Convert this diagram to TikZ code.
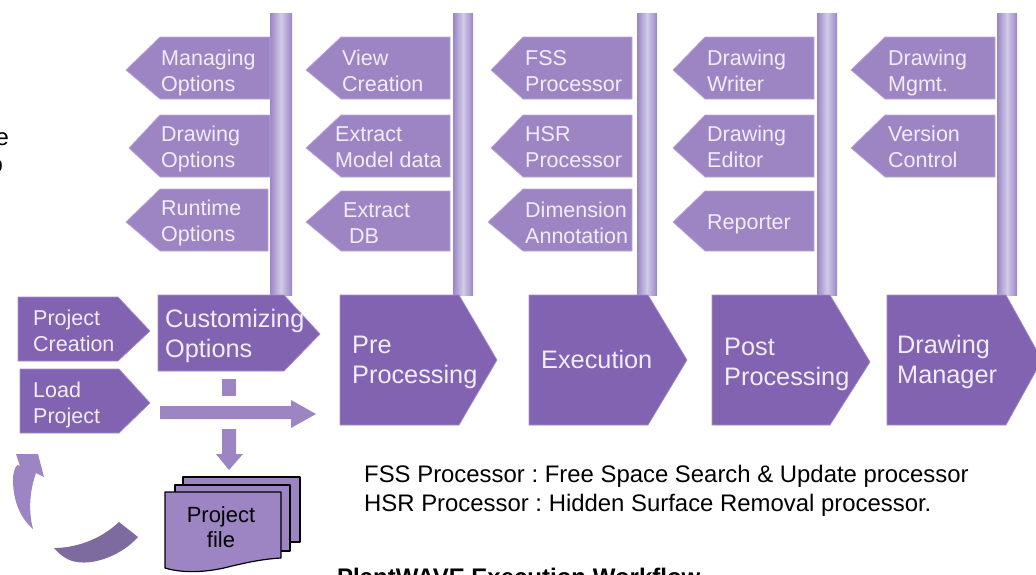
\documentclass[tikz,border=0pt]{standalone}
\usepackage{fontspec}
\setmainfont{Liberation Sans}
\frenchspacing
\definecolor{flagfill}{HTML}{9D85C4}
\definecolor{flagedge}{HTML}{B8A7D6}
\definecolor{stagefill}{HTML}{8263B1}
\definecolor{stageedge}{HTML}{A48FC8}
\definecolor{postdark}{HTML}{9A85C5}
\definecolor{postlight}{HTML}{D2CBE7}
\definecolor{swirl}{HTML}{7D6A9E}
\definecolor{labelwhite}{HTML}{F1EDF8}
\tikzset{
  flagshape/.style={fill=flagfill,draw=flagedge,line width=0.7pt},
  stageshape/.style={fill=stagefill,draw=stageedge,line width=0.7pt},
  postshape/.style={left color=postdark,right color=postdark,middle color=postlight,draw=none},
  marker/.style={fill=flagfill,draw=none},
  sheet/.style={fill=flagfill,draw=black,line width=1.2pt,line join=round},
  smalllabel/.style={anchor=base west,inner sep=0pt,align=left,text=labelwhite,font=\fontsize{21.5}{26}\selectfont},
  biglabel/.style={anchor=base west,inner sep=0pt,align=left,text=labelwhite,font=\fontsize{25.3}{30}\selectfont},
  filelabel/.style={anchor=base,inner sep=0pt,align=center,text=black,font=\fontsize{22}{25}\selectfont},
  notelabel/.style={anchor=base west,inner sep=0pt,text=black,font=\fontsize{23.9}{29}\selectfont},
}
\newcommand{\flagdraw}[6]{% tip x, tip y, shoulder x, right x, top y, bottom y
  \path[flagshape] (#1,#2) -- (#3,#5) -- (#4,#5) -- (#4,#6) -- (#3,#6) -- cycle;}
\newcommand{\stagedraw}[6]{% left, top, bottom, shoulder, tip x, tip y
  \path[stageshape] (#1,#2) -- (#4,#2) -- (#5,#6) -- (#4,#3) -- (#1,#3) -- cycle;}
\begin{document}
\begin{tikzpicture}[x=1pt,y=-1pt]
\useasboundingbox (0,0) rectangle (1036,574);
\clip (0,0) rectangle (1036,574);
% posts
\foreach \a/\b in {270/292,453/473,637/657,817/837,997/1017}
  \path[postshape] (\a,13) rectangle (\b,295);
% flags
\flagdraw{126}{70}{160}{270}{37}{99}
\flagdraw{129}{148}{160}{270}{115}{177}
\flagdraw{126}{222}{160}{268}{189}{251}
\flagdraw{306}{70}{341}{450}{37}{99}
\flagdraw{306}{148}{341}{450}{115}{177}
\flagdraw{306}{222}{341}{450}{191}{251}
\flagdraw{491}{70}{523}{632}{37}{99}
\flagdraw{491}{148}{523}{632}{115}{177}
\flagdraw{488}{222}{523}{632}{189}{251}
\flagdraw{673}{70}{705}{814}{37}{99}
\flagdraw{673}{148}{705}{814}{115}{177}
\flagdraw{673}{222}{705}{814}{191}{251}
\flagdraw{851}{70}{885}{995}{37}{99}
\flagdraw{851}{148}{885}{995}{115}{177}
% flag labels (y = baseline of the last line)
\node[smalllabel] (n1) at (161,91) {Managing\\Options};
\node[smalllabel] (n2) at (161,167) {Drawing\\Options};
\node[smalllabel] (n3) at (161,241) {Runtime\\Options};
\node[smalllabel] (n4) at (342,91) {View\\Creation};
\node[smalllabel] (n5) at (335,167) {Extract\\Model data};
\node[smalllabel] (n6) at (343,243) {Extract\\\hspace{6pt}DB};
\node[smalllabel] (n7) at (525,91) {FSS\\Processor};
\node[smalllabel] (n8) at (525,167) {HSR\\Processor};
\node[smalllabel] (n9) at (525,243) {Dimension\\Annotation};
\node[smalllabel] (n10) at (707,91) {Drawing\\Writer};
\node[smalllabel] (n11) at (707,167) {Drawing\\Editor};
\node[smalllabel] (n12) at (707,229) {Reporter};
\node[smalllabel] (n13) at (888,91) {Drawing\\Mgmt.};
\node[smalllabel] (n14) at (888,167) {Version\\Control};
% stages
\stagedraw{340}{295}{425}{459}{497}{360}
\stagedraw{529}{295}{425}{648}{687}{360}
\stagedraw{712}{295}{425}{830}{870}{362}
\stagedraw{887}{295}{425}{1006}{1042}{360}
\stagedraw{18}{297}{361}{118}{150}{331}
\stagedraw{20}{369}{433}{119}{150}{403}
\stagedraw{158}{295}{371}{284}{320}{334}
\node[biglabel] (s1) at (352,383) {Pre\\Processing};
\node[biglabel] (s2) at (541,368) {Execution};
\node[biglabel] (s3) at (724,385) {Post\\Processing};
\node[biglabel] (s4) at (897,383) {Drawing\\Manager};
\node[smalllabel] (s5) at (33,351) {Project\\Creation};
\node[smalllabel] (s6) at (33,423) {Load\\Project};
\node[biglabel] (s7) at (165,357) {Customizing\\Options};
% markers
\path[marker] (222,379) rectangle (236,396);
\path[marker] (160,406) -- (291,406) -- (291,400) -- (316,414) -- (291,428) -- (291,419) -- (160,419) -- cycle;
\path[marker] (222,429) -- (236,429) -- (236,454) -- (243,454) -- (229,470) -- (216,454) -- (222,454) -- cycle;
% swirl
\path[marker] (16,454) -- (38,454) -- (44,477) -- (36,473)
  .. controls (30,490) and (28,510) .. (33,529)
  .. controls (20,518) and (13,500) .. (13,480)
  .. controls (13,470) and (17,462) .. (20,466) -- cycle;
\path[fill=swirl] (54,548) .. controls (75,548) and (100,540) .. (119,522)
  -- (138,537) .. controls (122,555) and (95,565) .. (77,562)
  .. controls (68,561) and (60,555) .. (54,548) -- cycle;
% project file
\path[sheet] (183,477) -- (300,477) -- (300,542) -- (183,542) -- cycle;
\path[sheet] (175,485) -- (290,485) -- (290,551) -- (175,551) -- cycle;
\path[sheet] (165,492) -- (281,492) -- (281,558)
  .. controls (262,559) and (245,563) .. (232,566)
  .. controls (210,572) and (185,574) .. (165,568) -- cycle;
\node[filelabel] (f) at (221,547) {Project\\file};
% notes
\node[notelabel] (t1) at (364,482) {FSS Processor : Free Space Search \& Update processor};
\node[notelabel] (t2) at (364,511) {HSR Processor : Hidden Surface Removal processor.};
\node[notelabel,font=\fontsize{24}{28}\selectfont\bfseries] (t3) at (337,585) {PlantWAVE Execution Workflow};
\node[notelabel,anchor=base east] (t4) at (9,145) {e};
\node[notelabel,anchor=base east] (t5) at (3,172) {o};
\end{tikzpicture}
\end{document}
